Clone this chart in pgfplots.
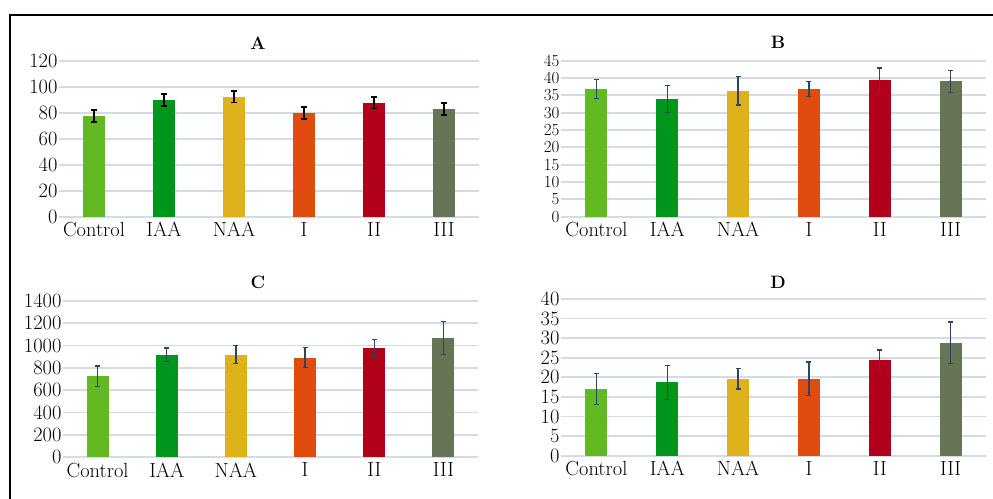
\documentclass[border=0pt]{standalone}
\usepackage{fontspec}
\usepackage{pgfplots}
\pgfplotsset{compat=1.18}
\definecolor{cCtl}{HTML}{63B922}
\definecolor{cIAA}{HTML}{00961E}
\definecolor{cNAA}{HTML}{DEB21A}
\definecolor{cI}{HTML}{E04B10}
\definecolor{cII}{HTML}{B0001A}
\definecolor{cIII}{HTML}{667555}
\definecolor{gridc}{HTML}{D3DCE6}
\definecolor{errc}{HTML}{2A4660}
\pgfplotsset{
  panel/.style={
    scale only axis, anchor=south west,
    xmin=-0.5, xmax=5.5, ymin=0,
    axis line style={draw=none},
    major tick length=0pt,
    ymajorgrids, grid style={gridc, line width=1.8bp},
    xtick={0,1,2,3,4,5},
    xticklabels={Control,IAA,NAA,I,II,III},
    tick label style={font=\fontsize{20.5}{20.5}\selectfont},
    /pgf/number format/assume math mode=true,
    yticklabel style={xshift=2bp, inner ysep=0pt},
    xticklabel style={yshift=-2bp},
    /pgf/number format/1000 sep={},
    scaled y ticks=false,
    ybar, bar width=22bp, bar shift=0pt,
    clip=false,
  },
  ebar/.style={fill=#1, draw=none,
    error bars/.cd, y dir=both, y explicit,
    error bar style={errc, line width=1.3bp},
    error mark options={errc, line width=1.3bp, mark size=2.5bp, rotate=90}},
  ebarA/.style={fill=#1, draw=none,
    error bars/.cd, y dir=both, y explicit,
    error bar style={black, line width=1.8bp},
    error mark options={black, line width=1.8bp, mark size=3.2bp, rotate=90}},
}
\begin{document}
\begin{tikzpicture}[x=1bp,y=1bp]
\useasboundingbox (0,0) rectangle (993,499);
\draw[line width=2bp] (10,-5) -- (10,484) -- (1000,484);
% Panel A
\begin{axis}[panel, at={(59bp,282bp)}, width=420bp, height=156bp, ymax=120, ytick={0,20,...,120}]
\addplot[ebarA=cCtl] coordinates {(0,77.5) +- (0,4.5)};
\addplot[ebarA=cIAA] coordinates {(1,90) +- (0,4.5)};
\addplot[ebarA=cNAA] coordinates {(2,92.5) +- (0,4.5)};
\addplot[ebarA=cI] coordinates {(3,80) +- (0,4.5)};
\addplot[ebarA=cII] coordinates {(4,88) +- (0,4.5)};
\addplot[ebarA=cIII] coordinates {(5,83) +- (0,4.5)};
\end{axis}
\node[font=\fontsize{18}{18}\selectfont\bfseries] at (258,456) {A};
% Panel B
\begin{axis}[panel, at={(561bp,282.3bp)}, width=425bp, height=156bp, ymax=45, ytick={0,5,...,45},
  yticklabel style={font=\fontsize{17}{17}\selectfont}]
\addplot[ebar=cCtl] coordinates {(0,36.8) +- (0,2.7)};
\addplot[ebar=cIAA] coordinates {(1,34) +- (0,3.9)};
\addplot[ebar=cNAA] coordinates {(2,36.3) +- (0,4.1)};
\addplot[ebar=cI] coordinates {(3,36.8) +- (0,2.2)};
\addplot[ebar=cII] coordinates {(4,39.5) +- (0,3.4)};
\addplot[ebar=cIII] coordinates {(5,39) +- (0,3.2)};
\end{axis}
\node[font=\fontsize{18}{18}\selectfont\bfseries] at (778,457) {B};
% Panel C
\begin{axis}[panel, at={(63bp,41.7bp)}, width=415bp, height=156.6bp, ymax=1400, ytick={0,200,...,1400}]
\addplot[ebar=cCtl] coordinates {(0,725) +- (0,90)};
\addplot[ebar=cIAA] coordinates {(1,917) +- (0,60)};
\addplot[ebar=cNAA] coordinates {(2,917) +- (0,80)};
\addplot[ebar=cI] coordinates {(3,890) +- (0,90)};
\addplot[ebar=cII] coordinates {(4,977) +- (0,75)};
\addplot[ebar=cIII] coordinates {(5,1066) +- (0,150)};
\end{axis}
\node[font=\fontsize{18}{18}\selectfont\bfseries] at (258,217) {C};
% Panel D
\begin{axis}[panel, at={(561bp,43.3bp)}, width=425bp, height=156.7bp, ymax=40, ytick={0,5,...,40}]
\addplot[ebar=cCtl] coordinates {(0,17) +- (0,4)};
\addplot[ebar=cIAA] coordinates {(1,18.7) +- (0,4.3)};
\addplot[ebar=cNAA] coordinates {(2,19.6) +- (0,2.6)};
\addplot[ebar=cI] coordinates {(3,19.6) +- (0,4.3)};
\addplot[ebar=cII] coordinates {(4,24.5) +- (0,2.5)};
\addplot[ebar=cIII] coordinates {(5,28.8) +- (0,5.3)};
\end{axis}
\node[font=\fontsize{18}{18}\selectfont\bfseries] at (778,217) {D};
\end{tikzpicture}
\end{document}
